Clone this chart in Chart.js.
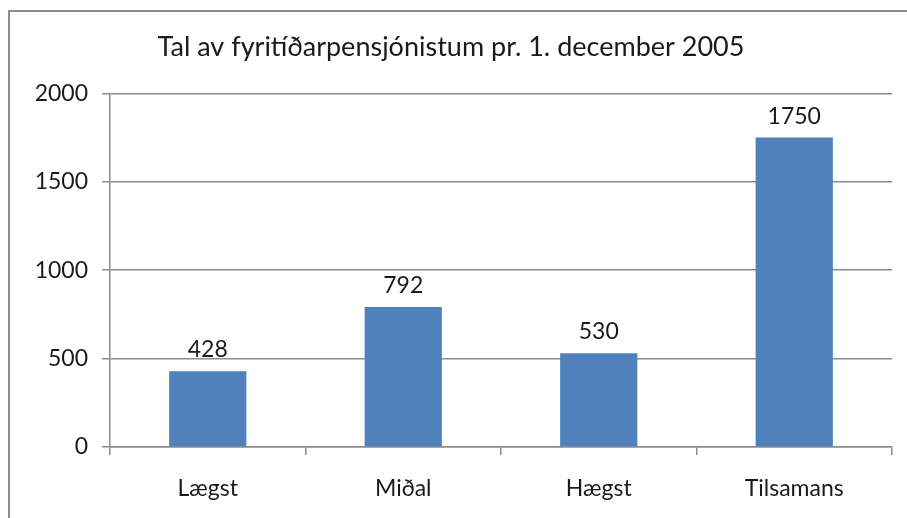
<!DOCTYPE html>
<html>
<head>
<meta charset="utf-8">
<script src="https://cdn.jsdelivr.net/npm/chart.js@4/dist/chart.umd.min.js"></script>
<style>
	html, body { margin: 0; padding: 0; background: #fff; overflow: hidden; }
	#wrap { position: relative; width: 907px; height: 518px; }
	#frame { position: absolute; left: 8px; top: 10px; width: 1000px; height: 1000px; border: 2px solid #8c8c8c; box-sizing: border-box; }
	canvas { position: absolute; left: 0; top: 0; }
</style>
</head>
<body>
<div id="wrap">
	<div id="frame"></div>
	<canvas id="barChart" width="907" height="518"></canvas>
</div>
<script>
// --- Data ---
const TITLE = 'Tal av fyritíðarpensjónistum pr. 1. december 2005';
const categories = ['Lægst', 'Miðal', 'Hægst', 'Tilsamans'];
const values = [428, 792, 530, 1750];
const yTicks = [0, 500, 1000, 1500, 2000];

const FONT = 'Lato, "Open Sans", sans-serif';
const GRID = '#8c8c8c';
const TEXT = '#1a1a1a';

// Draws the value above each bar
const valueLabels = {
	id: 'valueLabels',
	afterDatasetsDraw(chart) {
		const ctx = chart.ctx;
		const meta = chart.getDatasetMeta(0);
		ctx.save();
		ctx.font = '23px ' + FONT;
		ctx.fillStyle = TEXT;
		ctx.textAlign = 'center';
		ctx.textBaseline = 'alphabetic';
		meta.data.forEach((bar, i) => {
			ctx.fillText(String(values[i]), bar.x, bar.y - 14);
		});
		ctx.restore();
	}
};

const ctx = document.getElementById('barChart').getContext('2d');

new Chart(ctx, {
	type: 'bar',
	data: {
		labels: categories,
		datasets: [{
			data: values,
			backgroundColor: '#4f81bd',
			borderWidth: 0,
			categoryPercentage: 1,
			barPercentage: 0.395
		}]
	},
	options: {
		responsive: false,
		animation: false,
		layout: { padding: { left: 10, right: 15, top: 0, bottom: 0 } },
		scales: {
			x: {
				grid: {
					display: true,
					drawOnChartArea: false,
					drawTicks: true,
					tickLength: 8,
					color: GRID,
					lineWidth: 1.5
				},
				border: { color: GRID, width: 1.5 },
				ticks: { color: TEXT, font: { family: FONT, size: 23 }, padding: 20 },
				afterFit(scale) { scale.height = 71; }
			},
			y: {
				min: 0,
				max: 2000,
				afterBuildTicks(scale) { scale.ticks = yTicks.map(v => ({ value: v })); },
				grid: { color: GRID, lineWidth: 1.5, tickLength: 8 },
				border: { color: GRID, width: 1.5 },
				ticks: {
					color: TEXT,
					font: { family: FONT, size: 23 },
					padding: 14,
					callback: v => String(v)
				},
				afterFit(scale) { scale.width = 100; }
			}
		},
		plugins: {
			legend: { display: false },
			tooltip: { enabled: false },
			title: {
				display: true,
				text: TITLE,
				color: TEXT,
				font: { family: FONT, size: 27, weight: 'normal' },
				padding: { top: 31, bottom: 30 }
			}
		}
	},
	plugins: [valueLabels]
});
</script>
</body>
</html>
